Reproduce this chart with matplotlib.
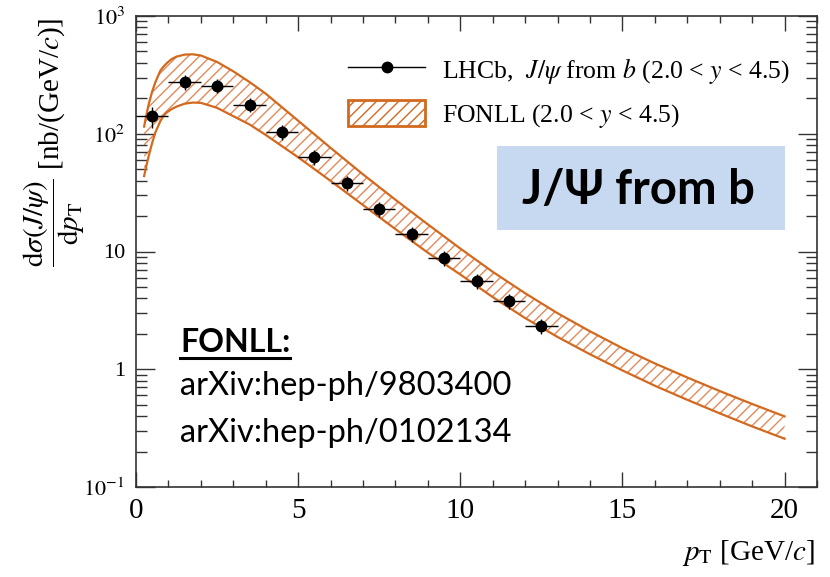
import numpy as np
import matplotlib
matplotlib.use("Agg")
import matplotlib.pyplot as plt
from matplotlib.lines import Line2D
from matplotlib.patches import Patch, Rectangle
from matplotlib.ticker import FixedLocator, LogLocator, MultipleLocator, NullFormatter

plt.rcParams["font.family"] = ["Liberation Serif", "DejaVu Serif"]
plt.rcParams["mathtext.fontset"] = "stix"
plt.rcParams["hatch.linewidth"] = 1.0

# LHCb measurement, J/psi from b, 2.0 < y < 4.5  [nb/(GeV/c)]
pt_centres = [0.5, 1.5, 2.5, 3.5, 4.5, 5.5, 6.5, 7.5, 8.5, 9.5, 10.5, 11.5, 12.5]
pt_halfwidth = [0.5] * 13
xsec = [141, 277, 256, 177, 104, 63.8, 38.4, 22.8, 14.0, 8.86, 5.62, 3.82, 2.34]
xsec_err = [28, 40, 36, 25, 15, 9.0, 5.5, 3.3, 2.0, 1.3, 0.8, 0.55, 0.35]

# FONLL prediction, upper and lower edge of the uncertainty band
fonll_pt = [0.25, 0.3, 0.35, 0.4, 0.5, 0.6, 0.75, 0.85, 0.95, 1.1, 1.25, 1.5,
            1.75, 2.0, 2.5, 3.0, 3.5, 4.0, 4.5, 5.0, 6.0, 7.0, 8.0, 9.0, 10.0,
            11.0, 12.0, 13.0, 14.0, 15.0, 16.0, 17.0, 18.0, 19.0, 20.0]
fonll_hi = [115, 135, 158, 182, 229, 275, 343, 372, 398, 431, 452, 470,
            473, 462, 407, 339, 275, 219, 168, 129, 75.9, 45.2, 27.5, 17.0, 10.6,
            6.72, 4.42, 2.99, 2.10, 1.51, 1.12, 0.851, 0.653, 0.507, 0.398]
fonll_lo = [43.7, 50.5, 58.0, 66.0, 84.0, 103, 128, 142, 152, 162, 170, 180,
            184, 183, 166, 141, 120, 97.7, 78.5, 63.1, 39.8, 24.8, 15.5, 9.77, 6.38,
            4.10, 2.72, 1.88, 1.34, 0.977, 0.724, 0.550, 0.422, 0.327, 0.257]

band_col = "#D2691E"
hatch_col = "#E38A5A"

W, H = 830, 577
fig = plt.figure(figsize=(W / 100, H / 100), dpi=100)
ax = fig.add_axes([136 / W, 1 - 487 / H, (817 - 136) / W, (487 - 16) / H])

ax.fill_between(fonll_pt, fonll_lo, fonll_hi, facecolor="none",
                edgecolor=hatch_col, hatch="///", linewidth=0)
ax.plot(fonll_pt, fonll_hi, color=band_col, lw=1.6)
ax.plot(fonll_pt, fonll_lo, color=band_col, lw=1.6)
ax.errorbar(pt_centres, xsec, xerr=pt_halfwidth, yerr=xsec_err, fmt="o",
            color="black", ms=7.5, elinewidth=1.0, capsize=0, zorder=5)

ax.set_yscale("log")
ax.set_xlim(0, 21)
ax.set_ylim(0.1, 1000)

ax.xaxis.set_major_locator(FixedLocator([0, 5, 10, 15, 20]))
ax.xaxis.set_minor_locator(MultipleLocator(1))
ax.yaxis.set_major_locator(FixedLocator([0.1, 1, 10, 100, 1000]))
ax.set_yticklabels([r"$10^{-1}$", "1", "10", r"$10^{2}$", r"$10^{3}$"])
ax.yaxis.set_minor_locator(LogLocator(base=10, subs=np.arange(2, 10)))
ax.yaxis.set_minor_formatter(NullFormatter())

ax.tick_params(which="both", direction="in", top=True, right=True, width=1.0, color="#333333")
ax.tick_params(axis="x", which="major", length=11, labelsize=21, pad=8)
ax.tick_params(axis="x", which="minor", length=5)
ax.tick_params(axis="y", which="major", length=14, labelsize=16, pad=8)
ax.tick_params(axis="y", which="minor", length=8)
for s in ax.spines.values():
    s.set_linewidth(1.2)
    s.set_color("#333333")

# legend
h_data = Line2D([], [], color="black", lw=1.0, marker="o", ms=7.5)
h_band = Patch(facecolor="none", edgecolor=band_col, hatch="///", linewidth=2)
ax.legend([h_data, h_band],
          [r"LHCb,  $J/\psi$ from $b$ (2.0 < $y$ < 4.5)", r"FONLL (2.0 < $y$ < 4.5)"],
          loc="upper left", bbox_to_anchor=(348 / W, 1 - 56 / H),
          bbox_transform=fig.transFigure, frameon=False, fontsize=18.5,
          handlelength=3.0, handleheight=1.15, handletextpad=0.65,
          labelspacing=0.55, borderpad=0, borderaxespad=0)

# axis titles
fig.text(815 / W, 1 - 560 / H, r"$p_{\rm T}$ [GeV/$c$]", ha="right", va="baseline", fontsize=21)
fig.text(54 / W, 1 - 18 / H,
         r"$\dfrac{{\rm d}\sigma(J/\psi)}{{\rm d}p_{\rm T}}$ [nb/(GeV/$c$)]",
         rotation=90, ha="center", va="top", fontsize=21)

# annotations
sans = ["Lato", "Open Sans", "DejaVu Sans"]
fig.add_artist(Rectangle((497 / W, 1 - 230 / H), (785 - 497) / W, (230 - 146) / H,
                         transform=fig.transFigure, facecolor="#C6D9F0", edgecolor="none", zorder=3))
fig.text(638 / W, 1 - 190 / H, "J/Ψ from b", ha="center", va="center",
         fontsize=34, fontweight="bold", family=sans, zorder=4)

t_fonll = fig.text(180 / W, 1 - 352 / H, "FONLL:", ha="left", va="baseline",
                   fontsize=23, fontweight="bold", family=sans)
fig.text(180 / W, 1 - 395 / H, "arXiv:hep-ph/9803400", ha="left", va="baseline",
         fontsize=23.5, family=sans)
fig.text(180 / W, 1 - 442 / H, "arXiv:hep-ph/0102134", ha="left", va="baseline",
         fontsize=23.5, family=sans)

# underline under "FONLL:"
fig.canvas.draw()
bb = t_fonll.get_window_extent()
y_ul = 1 - 358 / H
fig.add_artist(Line2D([bb.x0 / W, bb.x1 / W], [y_ul, y_ul], transform=fig.transFigure,
                      color="black", lw=2.2))

fig.savefig("out.png", dpi=100)
